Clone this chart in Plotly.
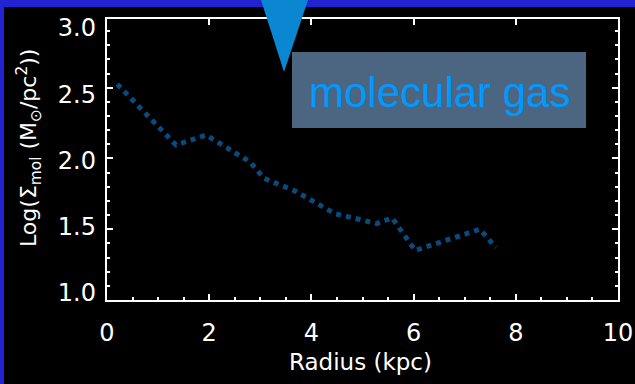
import plotly.graph_objects as go

# ---- data ----
radius_kpc = [0.20, 1.35, 1.94, 2.80, 3.07, 3.68, 4.46, 5.28, 5.58, 6.03, 7.30, 7.61]
log_sigma_mol = [2.525, 2.095, 2.165, 1.975, 1.86, 1.77, 1.61, 1.54, 1.58, 1.35, 1.50, 1.37]

x_ticks = [0, 2, 4, 6, 8, 10]
y_ticks = [1.0, 1.5, 2.0, 2.5, 3.0]
y_tick_text = ["1.0", "1.5", "2.0", "2.5", "3.0"]
label_text = "molecular gas"
x_title = "Radius (kpc)"
y_title = "Log(Σ<sub>mol</sub> (M<sub>⊙</sub>/pc<sup>2</sup>))"

W, H = 635, 384
L, R, T, B = 107, 17, 19, 84
pw, ph = W - L - R, H - T - B

def px_x(p):
    return (p - L) / pw

def px_y(p):
    return (H - B - p) / ph

FAM = "DejaVu Sans, sans-serif"
AX_FONT = dict(family=FAM, size=24, color="white")

fig = go.Figure()
fig.add_trace(go.Scatter(
    x=radius_kpc, y=log_sigma_mol, mode="lines",
    line=dict(color="#0a4a7c", width=5, dash="dot"),
    hoverinfo="skip", showlegend=False))
# invisible helpers for overlay axes
fig.add_trace(go.Scatter(x=[0], y=[1], xaxis="x2", mode="markers",
                         marker=dict(opacity=0), showlegend=False, hoverinfo="skip"))
fig.add_trace(go.Scatter(x=[0], y=[1], yaxis="y2", mode="markers",
                         marker=dict(opacity=0), showlegend=False, hoverinfo="skip"))

fig.update_layout(
    width=W, height=H,
    margin=dict(l=L, r=R, t=T, b=B, autoexpand=False),
    paper_bgcolor="black", plot_bgcolor="black",
    xaxis=dict(range=[0, 10], tickvals=x_ticks, ticks="inside", ticklen=6, tickwidth=2,
               tickcolor="white", showline=True, linecolor="white", linewidth=2,
               mirror=True, showgrid=False, zeroline=False,
               minor=dict(dtick=0.5, ticks="inside", ticklen=3, tickwidth=2, tickcolor="white", showgrid=False),
               tickfont=AX_FONT, ticklabelstandoff=10),
    xaxis2=dict(range=[0, 10], overlaying="x", side="top", tickvals=x_ticks, ticks="inside",
                ticklen=6, tickwidth=2, tickcolor="white", showticklabels=False,
                showline=False, showgrid=False, zeroline=False),
    yaxis=dict(range=[1.0, 2.985], tickvals=y_ticks, ticks="inside", ticklen=6, tickwidth=2,
               tickcolor="white", showline=True, linecolor="white", linewidth=2,
               mirror="ticks", showgrid=False, zeroline=False, showticklabels=False,
               minor=dict(dtick=0.1, ticks="inside", ticklen=3, tickwidth=2, tickcolor="white", showgrid=False)),
    yaxis2=dict(range=[0.947, 3.068], overlaying="y", side="left", tickvals=y_ticks,
                ticktext=y_tick_text, ticks="", showline=False, showgrid=False, zeroline=False,
                tickfont=AX_FONT, ticklabelstandoff=10),
    showlegend=False,
)

shapes = [
    # blue frame strips
    dict(type="rect", xref="paper", yref="paper", x0=px_x(0), x1=px_x(W), y0=px_y(7), y1=px_y(0),
         fillcolor="#2323d2", line=dict(width=0), layer="above"),
    dict(type="rect", xref="paper", yref="paper", x0=px_x(0), x1=px_x(4), y0=px_y(H), y1=px_y(0),
         fillcolor="#2323d2", line=dict(width=0), layer="above"),
    # label box
    dict(type="rect", xref="paper", yref="paper", x0=px_x(292), x1=px_x(586), y0=px_y(128), y1=px_y(52),
         fillcolor="#4c6580", line=dict(width=0), layer="above"),
    # pointer triangle
    dict(type="path", xref="paper", yref="paper",
         path=f"M {px_x(261)} {px_y(0)} L {px_x(308)} {px_y(0)} L {px_x(284)} {px_y(72)} Z",
         fillcolor="#0b86d1", line=dict(width=0), layer="above"),
]
fig.update_layout(shapes=shapes)

fig.add_annotation(x=px_x(439), y=px_y(92), xref="paper", yref="paper", text=label_text,
                   showarrow=False, xanchor="center", yanchor="middle",
                   font=dict(family="Liberation Sans, Arial, sans-serif", size=42, color="#0099ff"))
fig.add_annotation(x=px_x(360), y=px_y(362), xref="paper", yref="paper", text=x_title,
                   showarrow=False, xanchor="center", yanchor="middle",
                   font=dict(family=FAM, size=23, color="white"))
fig.add_annotation(x=px_x(29), y=px_y(148), xref="paper", yref="paper", text=y_title,
                   showarrow=False, xanchor="center", yanchor="middle", textangle=-90,
                   font=dict(family=FAM, size=22, color="white"))

fig.write_html("out.html",
               config={"displayModeBar": False, "staticPlot": True},
               post_script="document.body.style.margin='0';document.body.style.background='black';")
